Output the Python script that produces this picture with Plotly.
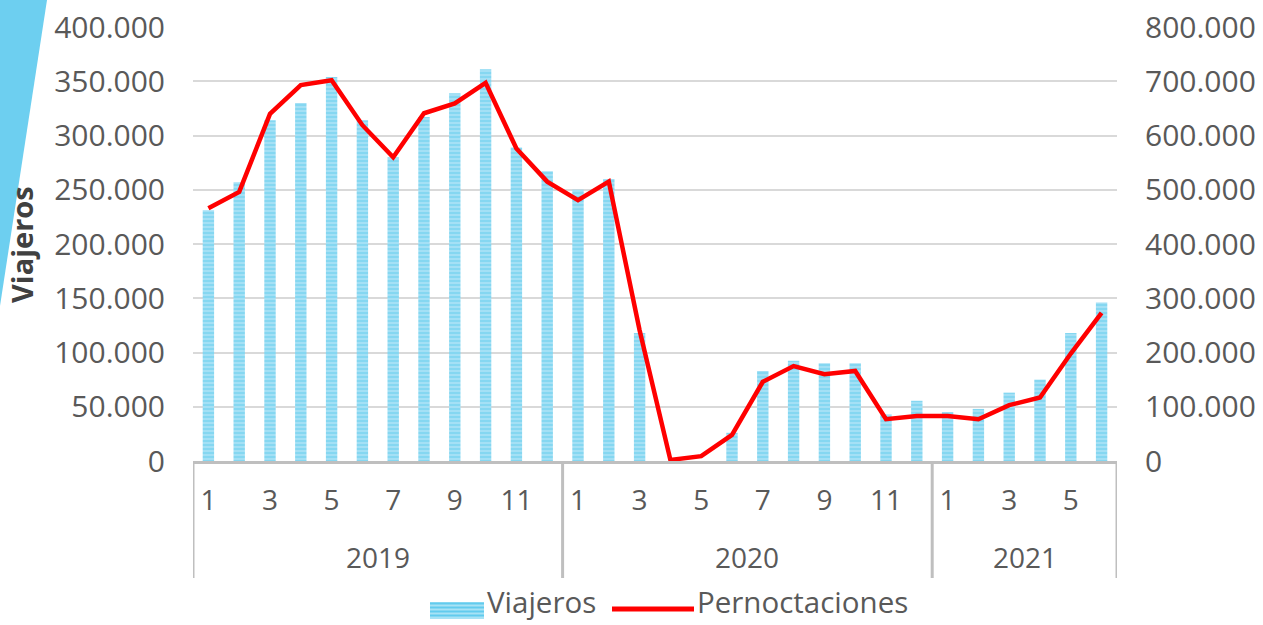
import plotly.graph_objects as go

years = ["2019", "2020", "2021"]
months_per_year = [12, 12, 6]

viajeros = [231000, 257000, 314000, 330000, 354000, 314000, 280000, 317000, 339000, 361000, 289000, 267000,
            250000, 260000, 118000, 0, 0, 26000, 83000, 92500, 90000, 90000, 43000, 55500,
            45000, 48000, 63000, 75000, 118000, 146000]
pernoctaciones = [466000, 496000, 640000, 693000, 702000, 619000, 560000, 641000, 659000, 697000, 576000, 515000,
                  481000, 515000, 241000, 2000, 9000, 48000, 146000, 175000, 160000, 166000, 77000, 83000,
                  83000, 77000, 103000, 117000, 198000, 273000]
series_names = ["Viajeros", "Pernoctaciones"]

month_labels = []
for n in months_per_year:
    month_labels += [str(m) for m in range(1, n + 1)]
x = list(range(len(month_labels)))
tickvals = [i for i, m in zip(x, month_labels) if int(m) % 2 == 1]
ticktext = [m for m in month_labels if int(m) % 2 == 1]

GRAY = "#595959"
FONT = "Open Sans"
BAR_BG = "#A8E2F5"
BAR_FG = "#62CBEE"
RED = "#FF0000"

fig = go.Figure()
fig.add_trace(go.Bar(
    x=x, y=viajeros, name=series_names[0], showlegend=False,
    marker=dict(color=BAR_BG, line=dict(width=0),
                pattern=dict(shape="-", fgcolor=BAR_FG, bgcolor=BAR_BG, size=4, solidity=0.55)),
))
fig.add_trace(go.Scatter(
    x=x, y=pernoctaciones, name=series_names[1], yaxis="y2", mode="lines", showlegend=False,
    line=dict(color=RED, width=4.5),
))

W, H, L, R, T, B = 1263, 625, 193, 146, 27, 164
pw, ph = W - L - R, H - T - B
def px(xp):
    return (xp - L) / pw
def py(yp):
    return (H - B - yp) / ph

shapes = []
shapes.append(dict(type="path", xref="paper", yref="paper",
                   path=f"M {px(0)},{py(0)} L {px(47)},{py(0)} L {px(0)},{py(306)} Z",
                   fillcolor="#6DCFF0", line=dict(width=0), layer="above"))
bounds = [-0.5]
for n in months_per_year:
    bounds.append(bounds[-1] + n)
for b in bounds:
    shapes.append(dict(type="line", xref="x", yref="paper", x0=b, x1=b, y0=0, y1=py(578),
                       line=dict(color="#BFBFBF", width=3), layer="above"))

# manual legend (wide swatches as in the reference)
shapes.append(dict(type="rect", xref="paper", yref="paper", x0=px(430), x1=px(484), y0=py(619), y1=py(602),
                   fillcolor=BAR_BG, line=dict(width=0)))
yy = 603.5
while yy < 619:
    shapes.append(dict(type="line", xref="paper", yref="paper", x0=px(430), x1=px(484), y0=py(yy), y1=py(yy),
                       line=dict(color=BAR_FG, width=2)))
    yy += 4
shapes.append(dict(type="line", xref="paper", yref="paper", x0=px(612), x1=px(694), y0=py(609), y1=py(609),
                   line=dict(color=RED, width=5)))

annotations = []
for i, yr in enumerate(years):
    c = (bounds[i] + bounds[i + 1]) / 2
    annotations.append(dict(x=c, xref="x", y=py(557), yref="paper", text=yr, showarrow=False,
                            font=dict(family=FONT, size=28, color=GRAY), xanchor="center", yanchor="middle"))
annotations.append(dict(x=px(22), xref="paper", y=py(245), yref="paper", text="<b>Viajeros</b>",
                        textangle=-90, showarrow=False, font=dict(family=FONT, size=29, color="#404040"),
                        xanchor="center", yanchor="middle"))
annotations.append(dict(x=px(485), xref="paper", y=py(624), yref="paper", text=series_names[0], showarrow=False,
                        font=dict(family=FONT, size=29.5, color=GRAY), xanchor="left", yanchor="bottom"))
annotations.append(dict(x=px(695), xref="paper", y=py(624), yref="paper", text=series_names[1], showarrow=False,
                        font=dict(family=FONT, size=29.5, color=GRAY), xanchor="left", yanchor="bottom"))

fig.update_layout(
    width=W, height=H,
    margin=dict(l=L, r=R, t=T, b=B, autoexpand=False),
    paper_bgcolor="white", plot_bgcolor="white",
    separators=",.",
    bargap=0.63,
    showlegend=False,
    xaxis=dict(range=[-0.5, len(x) - 0.5], tickvals=tickvals, ticktext=ticktext,
               tickfont=dict(family=FONT, size=28, color=GRAY), showgrid=False,
               showline=True, linecolor="#BFBFBF", linewidth=3, ticks="", ticklabelstandoff=12, zeroline=False),
    yaxis=dict(range=[0, 400000], dtick=50000, tickformat=",d", showgrid=True, gridcolor="#D9D9D9", gridwidth=2,
               tickfont=dict(family=FONT, size=30, color=GRAY), zeroline=False, ticks="", ticklabelstandoff=27),
    yaxis2=dict(range=[0, 800000], dtick=100000, tickformat=",d", overlaying="y", side="right", showgrid=False,
                tickfont=dict(family=FONT, size=30, color=GRAY), zeroline=False, ticks="", ticklabelstandoff=27),
    shapes=shapes, annotations=annotations,
)

fig.write_html("out.html", config={"displayModeBar": False},
               post_script="document.body.style.margin='0';")
